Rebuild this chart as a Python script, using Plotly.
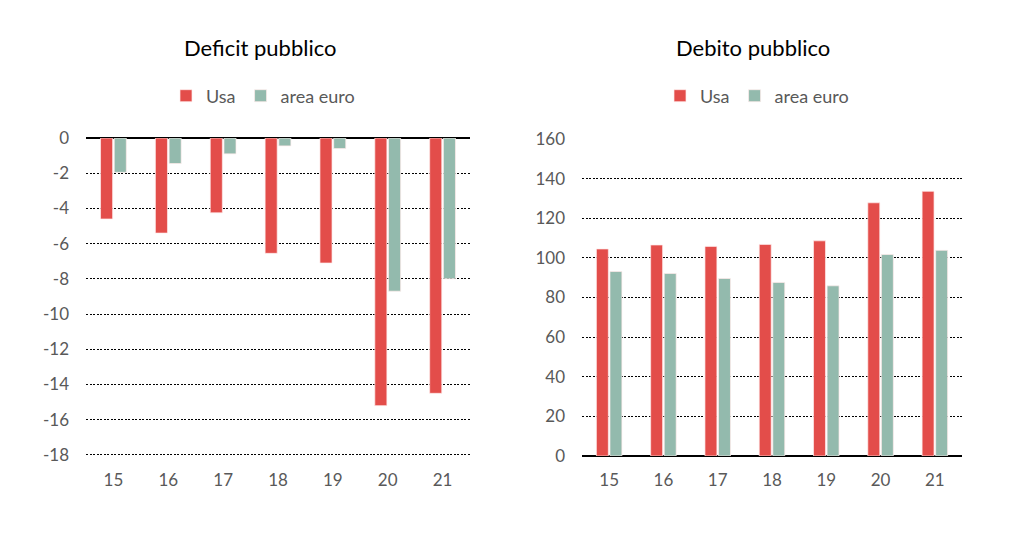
import plotly.graph_objects as go

years = ["15", "16", "17", "18", "19", "20", "21"]
deficit_usa = [-4.6, -5.4, -4.25, -6.55, -7.1, -15.2, -14.5]
deficit_euro = [-1.95, -1.45, -0.9, -0.45, -0.6, -8.7, -8.0]
debito_usa = [104.5, 106.5, 105.8, 106.8, 108.6, 127.8, 133.6]
debito_euro = [93.1, 92.1, 89.6, 87.6, 85.9, 101.7, 103.8]
deficit_ticks = [0, -2, -4, -6, -8, -10, -12, -14, -16, -18]
deficit_ticklabels = ["0", "-2", "-4", "-6", "-8", "-10", "-12", "-14", "-16", "-18"]
debito_ticks = [0, 20, 40, 60, 80, 100, 120, 140, 160]
debito_ticklabels = ["0", "20", "40", "60", "80", "100", "120", "140", "160"]

RED = "#E34D4A"
GREEN = "#93BAAD"
FONT = "Lato"
GREY = "#595959"

fig = go.Figure()

common_bar = dict(marker_line=dict(color="rgba(255,235,235,0.7)", width=1))

fig.add_trace(go.Bar(x=years, y=deficit_usa, name="Usa", marker_color=RED,
                     xaxis="x", yaxis="y", legend="legend", **common_bar))
fig.add_trace(go.Bar(x=years, y=deficit_euro, name="area euro", marker_color=GREEN,
                     xaxis="x", yaxis="y", legend="legend", **common_bar))
fig.add_trace(go.Bar(x=years, y=debito_usa, name="Usa", marker_color=RED,
                     xaxis="x2", yaxis="y2", legend="legend2", **common_bar))
fig.add_trace(go.Bar(x=years, y=debito_euro, name="area euro", marker_color=GREEN,
                     xaxis="x2", yaxis="y2", legend="legend2", **common_bar))

W, H = 1024, 536
ytop = 1 - 138 / H
ybot = 1 - 456 / H

xaxis_common = dict(showgrid=False, zeroline=False, showline=False, ticks="",
                    tickfont=dict(family=FONT, size=17, color=GREY),
                    ticklabelstandoff=12)
yaxis_common = dict(showgrid=True, gridcolor="#000000", griddash="2px,1.5px", gridwidth=1.2,
                    zeroline=True, zerolinecolor="#000000", zerolinewidth=2,
                    showline=False, ticks="",
                    tickfont=dict(family=FONT, size=17, color=GREY),
                    ticklabelstandoff=16)

legend_common = dict(orientation="h", xanchor="center", yanchor="middle", y=1 - 96 / H,
                     font=dict(family=FONT, size=18, color=GREY), itemwidth=30,
                     bgcolor="rgba(0,0,0,0)", borderwidth=0)

fig.update_layout(
    width=W, height=H,
    margin=dict(l=0, r=0, t=0, b=0, pad=0, autoexpand=False),
    paper_bgcolor="white", plot_bgcolor="white",
    barmode="group", bargap=0.5, bargroupgap=0.12,
    font=dict(family=FONT, color=GREY),
    xaxis=dict(domain=[86 / W, 470 / W], anchor="y", **xaxis_common),
    yaxis=dict(domain=[ybot, ytop], anchor="x", range=[-18.06, 0],
               tickvals=deficit_ticks, ticktext=deficit_ticklabels, **yaxis_common),
    xaxis2=dict(domain=[582 / W, 962 / W], anchor="y2", **xaxis_common),
    yaxis2=dict(domain=[ybot, ytop], anchor="x2", range=[0, 160.5],
                tickvals=debito_ticks, ticktext=debito_ticklabels, **yaxis_common),
    legend=dict(x=263 / W, **legend_common),
    legend2=dict(x=757 / W, **legend_common),
    annotations=[
        dict(text="Deficit pubblico", x=260 / W, y=1 - 47 / H, xref="paper", yref="paper",
             showarrow=False, xanchor="center", yanchor="middle",
             font=dict(family=FONT, size=22, color="#000000")),
        dict(text="Debito pubblico", x=753 / W, y=1 - 47 / H, xref="paper", yref="paper",
             showarrow=False, xanchor="center", yanchor="middle",
             font=dict(family=FONT, size=22, color="#000000")),
    ],
)

fig.write_html("out.html", config={"displayModeBar": False},
               post_script="document.body.style.margin='0px';")
